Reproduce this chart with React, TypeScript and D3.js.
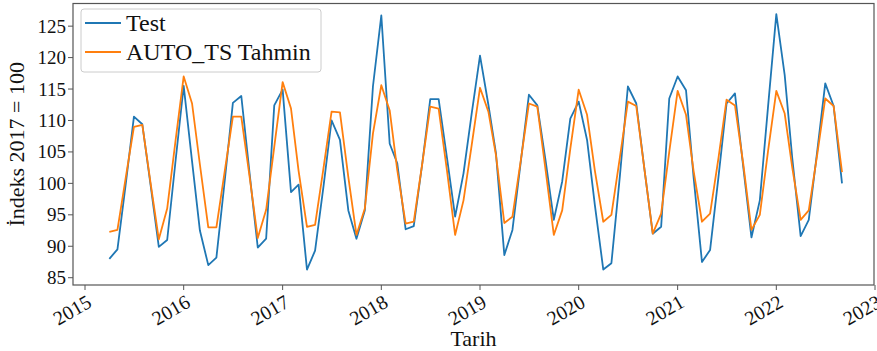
import React from "react"
import * as d3 from "d3"

// monthly, April 2015 .. September 2022
const startMonth = new Date(Date.UTC(2015, 3, 1))

const testValues = [
  88.0, 89.5, 100.0, 110.6, 109.4, 99.6, 89.9, 91.0, 103.2,
  115.5, 103.5, 92.5, 87.0, 88.2, 100.5, 112.8, 113.9, 101.5, 89.8, 91.2, 112.4,
  114.9, 98.6, 99.8, 86.3, 89.3, 99.5, 110.0, 106.9, 95.7, 91.2, 95.7, 115.4,
  126.7, 106.3, 103.2, 92.7, 93.2, 103.0, 113.4, 113.4, 104.0, 94.7, 101.6, 111.0,
  120.3, 112.5, 104.8, 88.6, 92.6, 103.5, 114.1, 112.4, 103.5, 94.2, 100.3, 110.3,
  113.0, 106.9, 96.5, 86.3, 87.3, 101.0, 115.4, 112.7, 102.0, 92.0, 93.1, 113.5,
  117.0, 114.8, 101.0, 87.5, 89.4, 101.0, 112.7, 114.3, 102.5, 91.4, 97.3, 112.0,
  126.9, 117.2, 104.0, 91.6, 94.2, 105.0, 115.9, 112.3, 100.0,
]

const forecastValues = [
  92.3, 92.6, 101.0, 109.0, 109.3, 99.9, 91.1, 96.0, 106.5,
  117.0, 112.7, 103.0, 93.0, 93.0, 102.0, 110.6, 110.6, 101.0, 91.3, 95.8, 105.8,
  116.1, 111.9, 102.0, 93.1, 93.4, 102.4, 111.4, 111.3, 101.0, 91.8, 96.0, 107.9,
  115.6, 111.6, 102.1, 93.6, 93.9, 103.0, 112.2, 111.9, 102.0, 91.8, 97.3, 106.0,
  115.2, 111.4, 104.5, 93.7, 94.7, 103.7, 112.7, 112.2, 102.0, 91.8, 95.7, 105.5,
  114.9, 110.9, 102.0, 93.9, 95.0, 104.0, 113.0, 112.3, 102.0, 92.0, 95.2, 105.0,
  114.7, 110.9, 102.0, 93.9, 95.2, 104.0, 113.3, 112.4, 103.0, 92.6, 95.0, 105.0,
  114.7, 111.1, 102.5, 94.2, 95.7, 104.5, 113.5, 112.3, 101.8,
]

const yTicks = [85, 90, 95, 100, 105, 110, 115, 120, 125]
const xTickYears = [2015, 2016, 2017, 2018, 2019, 2020, 2021, 2022, 2023]

const seriesNames = ["Test", "AUTO_TS Tahmin"]
const colors = ["#1f77b4", "#ff7f0e"]

const width = 877
const height = 351
const left = 73
const right = 874
const top = 3.5
const bottom = 285
const font = "Liberation Serif, Times New Roman, serif"
const ink = "#111"

const App = () => {
  const dates = testValues.map((_, i) => d3.utcMonth.offset(startMonth, i))

  const x = d3
    .scaleUtc()
    .domain([new Date(Date.UTC(2015, 0, 1)), new Date(Date.UTC(2023, 0, 1))])
    .range([85, 875])
  const y = d3.scaleLinear().domain([83.84, 128.6]).range([bottom, top])

  const line = d3
    .line<number>()
    .x((_, i) => x(dates[i]))
    .y((v) => y(v))

  return (
    <svg
      width={width}
      height={height}
      style={{ position: "absolute", left: 0, top: 0, background: "#fff", fontFamily: font }}
    >
      <defs>
        <clipPath id="plot">
          <rect x={left} y={top} width={right - left} height={bottom - top} />
        </clipPath>
      </defs>

      <g clipPath="url(#plot)">
        {[testValues, forecastValues].map((vals, k) => (
          <path
            key={k}
            d={line(vals) ?? ""}
            fill="none"
            stroke={colors[k]}
            strokeWidth={1.8}
            strokeLinejoin="round"
          />
        ))}
      </g>

      <rect
        x={left}
        y={top}
        width={right - left}
        height={bottom - top}
        fill="none"
        stroke="#555"
        strokeWidth={1.2}
      />

      {yTicks.map((t) => (
        <g key={t} transform={`translate(0,${y(t)})`}>
          <line x1={left - 5} x2={left} stroke="#555" strokeWidth={1} />
          <text x={left - 7} dy="0.34em" textAnchor="end" fontSize={19} fill={ink}>
            {t}
          </text>
        </g>
      ))}

      {xTickYears.map((yr) => {
        const px = x(new Date(Date.UTC(yr, 0, 1)))
        return (
          <g key={yr}>
            <line x1={px} x2={px} y1={bottom} y2={bottom + 5} stroke="#555" strokeWidth={1} />
            <text
              transform={`translate(${px + 1},${bottom + 9}) rotate(-30)`}
              dy="0.7em"
              textAnchor="end"
              fontSize={20}
              fill={ink}
            >
              {yr}
            </text>
          </g>
        )
      })}

      <text x={(left + right) / 2} y={346} textAnchor="middle" fontSize={22} fill={ink}>
        Tarih
      </text>
      <text
        transform={`translate(24,${(top + bottom) / 2}) rotate(-90)`}
        textAnchor="middle"
        fontSize={22}
        fill={ink}
      >
        İndeks 2017 = 100
      </text>

      <g>
        <rect
          x={81}
          y={9}
          width={240}
          height={63}
          rx={3}
          fill="#fff"
          fillOpacity={0.8}
          stroke="#ccc"
          strokeWidth={1}
        />
        {seriesNames.map((name, k) => (
          <g key={name} transform={`translate(0,${23 + k * 29})`}>
            <line x1={85} x2={121} stroke={colors[k]} strokeWidth={1.8} />
            <text x={126} dy="0.34em" fontSize={24} fill={ink}>
              {name}
            </text>
          </g>
        ))}
      </g>
    </svg>
  )
}

export default App
